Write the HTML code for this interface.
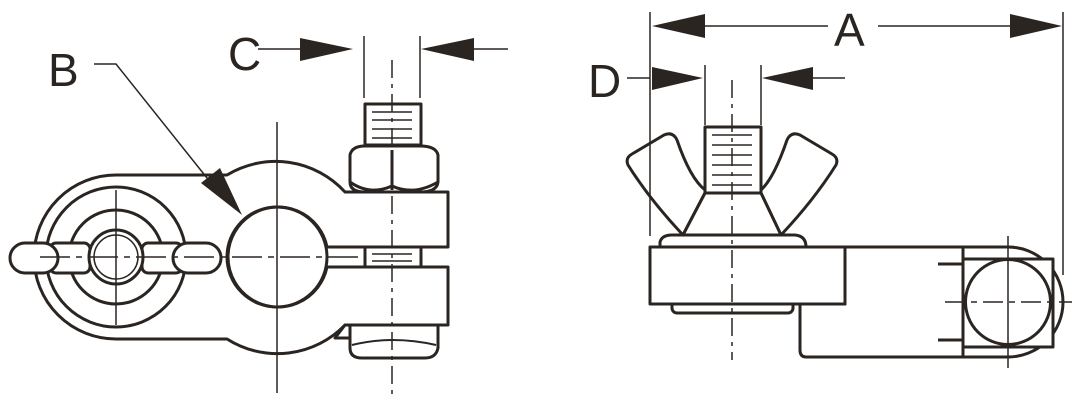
<!DOCTYPE html>
<html><head><meta charset="utf-8"><style>
html,body{margin:0;padding:0;background:#fff;width:1079px;height:415px;overflow:hidden}
svg{display:block}
text{font-family:"Liberation Sans",sans-serif;fill:#2b2522}
</style></head><body>
<svg width="1079" height="415" viewBox="0 0 1079 415" xmlns="http://www.w3.org/2000/svg">
<g fill="#fff" stroke="#2b2522" stroke-width="3" stroke-linejoin="round">
<!-- LEFT VIEW body -->
<path d="M116,175 L227,175 A94,94 0 0 1 345,192 L448,192 L448,247 L327,247 A50,50 0 1 0 327,267 L448,267 L448,325 L345,325 A94,94 0 0 1 227,339 L116,339 A82,82 0 0 1 116,175 Z"/>
<circle cx="277" cy="257" r="50" fill="none"/>
<circle cx="116" cy="257" r="70"/>
<circle cx="116" cy="257" r="47"/>
<rect x="50" y="243" width="40" height="30" rx="6"/>
<rect x="142" y="243" width="40" height="30" rx="6"/>
<rect x="10" y="243" width="48" height="30" rx="15"/>
<rect x="173" y="243" width="48" height="30" rx="15"/>
<circle cx="116" cy="257" r="27"/>
<circle cx="116" cy="257" r="22" stroke-width="1.5"/>
<rect x="365" y="104" width="56" height="41"/>
<path d="M350,155 Q352,146 365,146 L420,146 Q436,146 438,155 L438,182 Q437,192 420,192 L365,192 Q350,192 350,182 Z"/>
<line x1="392" y1="150" x2="392" y2="190"/>
<path d="M350,182 Q370,196 392,186 Q414,196 438,182" fill="none"/>
<rect x="365" y="247" width="56" height="20"/>
<path d="M350,325 L438,325 L438,348 Q436,358 425,358 L362,358 Q350,358 350,348 Z"/>
<path d="M352,345 Q392,335 436,345" fill="none" stroke-width="2"/>
<path d="M345,325 L350,325 L350,338 L335,338 Z" />

<!-- RIGHT VIEW -->
<path d="M845,247 L1008,247 A55,55 0 0 1 1008,357 L806,357 Q800,357 800,350 L800,304 L845,304 Z"/>
<rect x="963" y="259" width="90" height="88"/>
<circle cx="1008" cy="302" r="42.5"/>
<line x1="963" y1="247" x2="963" y2="357"/>
<line x1="938" y1="264" x2="963" y2="264"/>
<line x1="938" y1="340" x2="963" y2="340"/>
<rect x="672" y="300" width="121" height="13" rx="5"/>
<path d="M660,247 L660,242 Q662,235 672,235 L795,235 Q806,236 806,247 Z"/>
<rect x="650" y="247" width="195" height="57"/>
<path d="M683,235 Q650,200 628,165 Q625,158 632,154 L664,135 Q673,131 677,140 Q690,178 705,190 L705,193 Z"/>
<path d="M781,235 Q814,200 836,165 Q839,158 832,154 L800,135 Q791,131 787,140 Q774,178 761,190 L761,193 Z"/>
<path d="M705,193 L761,193 L781,235 L683,235 Z"/>
<rect x="705" y="127" width="56" height="66"/>
</g>
<g stroke="#2b2522" stroke-width="1.5">
<line x1="372" y1="112" x2="412" y2="112"/><line x1="372" y1="120" x2="412" y2="120"/>
<line x1="372" y1="129" x2="412" y2="129"/><line x1="372" y1="138" x2="412" y2="138"/>
<line x1="372" y1="254" x2="412" y2="254"/><line x1="372" y1="261" x2="412" y2="261"/>
<line x1="712" y1="135" x2="752" y2="135"/><line x1="712" y1="145" x2="752" y2="145"/>
<line x1="712" y1="155" x2="752" y2="155"/><line x1="712" y1="165" x2="752" y2="165"/>
<line x1="712" y1="175" x2="752" y2="175"/><line x1="712" y1="185" x2="752" y2="185"/>
</g>
<g fill="none" stroke="#2b2522" stroke-width="1.5">
<line x1="277" y1="122" x2="277" y2="393"/>
<line x1="392" y1="60" x2="392" y2="400" stroke-dasharray="18,6,4,6"/>
<line x1="116" y1="190" x2="116" y2="325"/>
<line x1="40" y1="257" x2="360" y2="257" stroke-dasharray="30,6,6,6"/>
<line x1="258" y1="49" x2="300" y2="49"/>
<line x1="470" y1="49" x2="508" y2="49"/>
<line x1="364" y1="36" x2="364" y2="98"/>
<line x1="420" y1="36" x2="420" y2="98"/>
<polyline points="94,64 116,64 215,188"/>
<line x1="650" y1="12" x2="650" y2="236"/>
<line x1="1063" y1="12" x2="1063" y2="275"/>
<line x1="700" y1="26" x2="828" y2="26"/>
<line x1="878" y1="26" x2="1015" y2="26"/>
<line x1="627" y1="78" x2="650" y2="78"/>
<line x1="810" y1="78" x2="845" y2="78"/>
<line x1="705" y1="65" x2="705" y2="125"/>
<line x1="761" y1="65" x2="761" y2="125"/>
<line x1="732" y1="80" x2="732" y2="360" stroke-dasharray="18,6,4,6"/>
<line x1="1008" y1="236" x2="1008" y2="368"/>
<line x1="945" y1="302" x2="1072" y2="302" stroke-dasharray="20,6,6,6"/>
</g>
<g fill="#2b2522">
<polygon points="300,38 353,49 300,61"/>
<polygon points="474,38 421,49 474,61"/>
<polygon points="652,26 705,14 705,38"/>
<polygon points="1062,26 1010,14 1010,38"/>
<polygon points="652,67 703,78 652,90"/>
<polygon points="762,78 813,67 813,90"/>
<polygon points="242,215 201,183 220,168"/>
</g>
<text x="228" y="70" font-size="46">C</text>
<text x="48" y="86" font-size="46">B</text>
<text x="834" y="46" font-size="46">A</text>
<text x="588" y="97" font-size="46">D</text>
</svg>
</body></html>
